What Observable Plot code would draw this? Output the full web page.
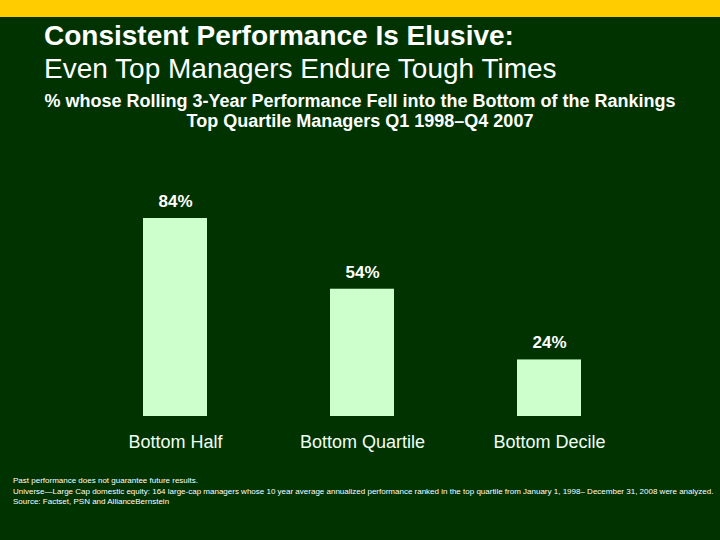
<!DOCTYPE html>
<html>
<head>
<meta charset="utf-8">
<script src="https://cdn.jsdelivr.net/npm/d3@7"></script>
<script src="https://cdn.jsdelivr.net/npm/@observablehq/plot@0.6"></script>
<style>
  html, body { margin: 0; padding: 0; }
  body { width: 720px; height: 540px; background: #003300; position: relative; overflow: hidden;
         font-family: "Liberation Sans", Arial, sans-serif; color: #ffffff; }
  #topbar { position: absolute; left: 0; top: 0; width: 720px; height: 17px; background: #ffcc00; }
  #title { position: absolute; left: 44px; top: 19px; font-size: 28px; line-height: 33px; white-space: nowrap; }
  #title b { font-weight: bold; }
  #subtitle { position: absolute; left: 0; width: 720px; top: 91px; text-align: center; font-size: 18px;
              line-height: 20px; font-weight: bold; }
  #chart { position: absolute; left: 0; top: 140px; }
  #notes { position: absolute; left: 13px; top: 476px; font-size: 8px; line-height: 10.5px; white-space: nowrap; }
</style>
</head>
<body>
<div id="topbar"></div>
<div id="title"><b>Consistent Performance Is Elusive:</b><br>Even Top Managers Endure Tough Times</div>
<div id="subtitle">% whose Rolling 3-Year Performance Fell into the Bottom of the Rankings<br>Top Quartile Managers Q1 1998–Q4 2007</div>
<div id="chart"></div>
<div id="notes">Past performance does not guarantee future results.<br>Universe—Large Cap domestic equity: 164 large-cap managers whose 10 year average annualized performance ranked in the top quartile from January 1, 1998– December 31, 2008 were analyzed.<br>Source: Factset, PSN and AllianceBernstein</div>
<script>
const categories = ["Bottom Half", "Bottom Quartile", "Bottom Decile"];
const values = [84, 54, 24];
const valueLabels = ["84%", "54%", "24%"];

const data = categories.map((c, i) => ({category: c, value: values[i], label: valueLabels[i]}));

const chart = Plot.plot({
  width: 720,
  height: 320,
  marginLeft: 80.5,
  marginRight: 77.5,
  marginTop: 40.3,
  marginBottom: 44,
  style: {background: "transparent", fontFamily: "'Liberation Sans', Arial, sans-serif"},
  x: {domain: categories, paddingInner: 0.659, paddingOuter: 0.3295, axis: null},
  y: {domain: [0, 100], axis: null},
  marks: [
    Plot.barY(data, {x: "category", y: "value", fill: "#ccffcc"}),
    Plot.text(data, {x: "category", y: "value", text: "label", dy: -17, fill: "#ffffff",
      fontSize: 17, fontWeight: "bold"}),
    Plot.axisX({tickSize: 0, tickPadding: 19, fontSize: 18, color: "#f0fff0", fill: "#f0fff0", label: null})
  ]
});
document.getElementById("chart").appendChild(chart);
</script>
</body>
</html>
